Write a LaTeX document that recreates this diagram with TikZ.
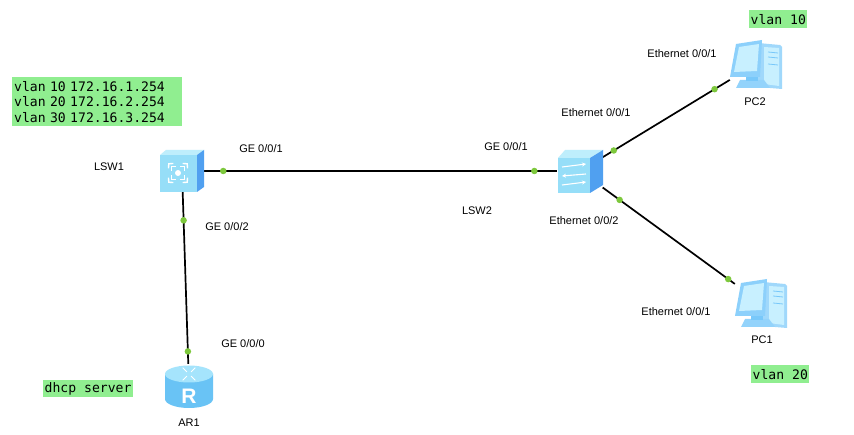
\documentclass[tikz,border=0pt]{standalone}
\usepackage{fontspec}
\setmainfont{Liberation Sans}
\newfontfamily\monofont[WordSpace={1,0,0}]{DejaVu Sans Mono}
\usetikzlibrary{arrows.meta,calc}
\definecolor{boxgreen}{RGB}{144,238,144}
\definecolor{dotgreen}{RGB}{125,200,60}
\definecolor{icfront}{RGB}{150,222,248}
\definecolor{ictop}{RGB}{190,238,252}
\definecolor{icside}{RGB}{80,160,240}
\definecolor{pcblue}{RGB}{120,200,250}
\definecolor{pclight}{RGB}{200,240,255}
\definecolor{pcdark}{RGB}{95,170,240}
\definecolor{rtbody}{RGB}{105,195,245}
\definecolor{rttop}{RGB}{165,228,252}
\tikzset{
  dev/.style={draw=none, inner sep=0, minimum width=#1},
  lbl/.style={font=\fontsize{11}{13}\selectfont, anchor=base, inner sep=0},
  gbox/.style={fill=boxgreen, font=\monofont\fontsize{13.1}{15.5}\selectfont, inner xsep=2pt, inner ysep=2pt, anchor=north west, align=left},
  link/.style={line width=1.7pt, black},
  gdot/.style={circle, fill=dotgreen, inner sep=0, minimum size=6.5pt},
  coresw/.pic={
    \fill[icfront] (-22,-16) rectangle (15,21);
    \fill[ictop] (-22,-16) -- (-16,-21) -- (22,-21) -- (15,-16) -- cycle;
    \fill[icside] (15,-16) -- (22,-21) -- (22,16) -- (15,21) -- cycle;
    \fill[white] (-4,2) circle (3);
    \foreach \a in {45,135,225,315}{
      \begin{scope}[shift={(-4,2)}, rotate=\a]
        \draw[white, line width=1.4pt] (6,-3) -- (9,0) -- (6,3);
        \draw[white, line width=1.4pt] (10,-3.5) -- (13,0) -- (10,3.5);
      \end{scope}
    }
  },
  accsw/.pic={
    \fill[icfront] (-22,-14) rectangle (10,21);
    \fill[ictop] (-22,-14) -- (-15,-22) -- (23,-22) -- (10,-14) -- cycle;
    \fill[icside] (10,-14) -- (23,-22) -- (23,13) -- (10,21) -- cycle;
    \draw[white, line width=1.1pt, -{Stealth[length=4pt,width=4pt]}] (-18,-5) -- (6,-8);
    \draw[white, line width=1.1pt, -{Stealth[length=4pt,width=4pt]}] (6,2) -- (-18,4);
    \draw[white, line width=1.1pt, -{Stealth[length=4pt,width=4pt]}] (-18,13) -- (6,10);
  },
  pcicon/.pic={
    \fill[pcblue!70] (2,-21) -- (24,-19) -- (26,-17) -- (26,25) -- (2,23) -- cycle;
    \fill[pclight] (8,-17) -- (23,-16) -- (23,22) -- (8,20) -- cycle;
    \draw[pcblue, line width=0.8pt] (12,-12) -- (22,-11) (12,-7) -- (22,-6) (12,0) -- (22,1);
    \fill[pcblue!80] (-16,16) -- (8,16) -- (14,24) -- (-20,24) -- cycle;
    \fill[pcblue] (-10,12) rectangle (2,17);
    \fill[pcblue!85] (-20,-20) -- (6,-24) -- (4,13) -- (-26,13) -- cycle;
    \fill[pclight] (-17,-17) -- (3,-20) -- (1,7) -- (-22,8) -- cycle;
  },
  router/.pic={
    \fill[rtbody] (-24,-12) -- (-24,13) arc[start angle=180, end angle=0, x radius=24, y radius=9] -- (24,-12) -- cycle;
    \fill[rttop] (0,-12) ellipse[x radius=24, y radius=8.5];
    \foreach \a in {45,135,225,315}{
      \draw[white, line width=1pt, rotate around={\a:(0,-12)}] ($(0,-12)+(3,0)$) -- ($(0,-12)+(9,0)$);
    }
    \node[white, font=\bfseries\fontsize{21}{21}\selectfont] at (0,10) {R};
  }
}
\begin{document}
\begin{tikzpicture}[x=1pt, y=-1pt]
\useasboundingbox (0,0) rectangle (854,435);
\fill[white] (0,0) rectangle (854,435);
% device nodes
\node[dev=44, minimum height=42] (lsw1) at (182,171) {};
\node[dev=45, minimum height=42] (lsw2) at (580,171) {};
\node[dev=52, minimum height=49] (pc2) at (756,64) {};
\node[dev=52, minimum height=49] (pc1) at (761,303) {};
\node[dev=48, minimum height=44] (ar1) at (189,386) {};
% links
\draw[link] (lsw1) -- (lsw2)
  node[gdot, pos=0.054] {} node[gdot, pos=0.935] {};
\draw[link] (lsw1) -- (ar1)
  node[gdot, pos=0.164] {} node[gdot, pos=0.928] {};
\draw[link] (lsw2) -- (pc2)
  node[gdot, pos=0.087] {} node[gdot, pos=0.88] {};
\draw[link] (lsw2) -- (pc1)
  node[gdot, pos=0.128] {} node[gdot, pos=0.95] {};
% icons
\pic at (lsw1) {coresw};
\pic at ($(lsw2)+(0,1)$) {accsw};
\pic at (pc2) {pcicon};
\pic at (pc1) {pcicon};
\pic at (ar1) {router};
% labels
\node[lbl] (t1) at (109,171) {LSW1};
\node[lbl] (t2) at (261,153) {GE 0/0/1};
\node[lbl] (t3) at (227,231) {GE 0/0/2};
\node[lbl] (t4) at (506,151) {GE 0/0/1};
\node[lbl] (t5) at (477,215) {LSW2};
\node[lbl] (t6) at (596,117) {Ethernet 0/0/1};
\node[lbl] (t7) at (584,225) {Ethernet 0/0/2};
\node[lbl] (t8) at (682,58) {Ethernet 0/0/1};
\node[lbl] (t9) at (676,316) {Ethernet 0/0/1};
\node[lbl] (t10) at (243,348) {GE 0/0/0};
\node[lbl] (t11) at (755,106) {PC2};
\node[lbl] (t12) at (762,344) {PC1};
\node[lbl] (t13) at (189,426) {AR1};
% green notes
\node[gbox, text width=166pt, minimum height=49pt] (g1) at (12,77) {vlan 10 172.16.1.254\\vlan 20 172.16.2.254\\vlan 30 172.16.3.254};
\node[gbox, minimum height=18pt, inner xsep=1.5pt] (g2) at (749,10) {vlan 10};
\node[gbox, minimum height=18pt, inner xsep=1.5pt] (g3) at (751,365) {vlan 20};
\node[gbox, minimum height=17pt, inner xsep=1.5pt] (g4) at (43,380) {dhcp server};
\end{tikzpicture}
\end{document}
